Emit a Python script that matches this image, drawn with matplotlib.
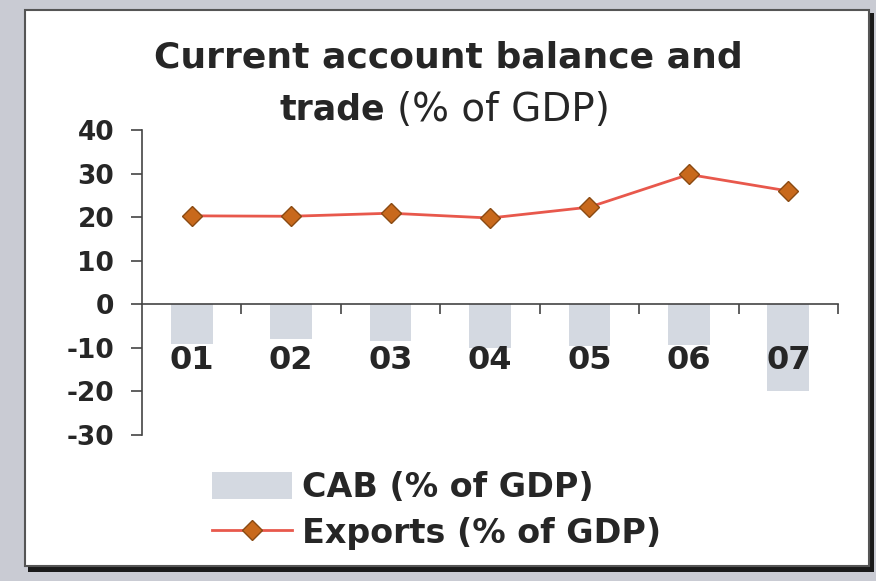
import matplotlib.pyplot as plt
from matplotlib.patches import Rectangle, Patch
from matplotlib.lines import Line2D

plt.rcParams['font.family'] = ['DejaVu Sans']

# data
years = ['01', '02', '03', '04', '05', '06', '07']
cab = [-9.0, -8.0, -8.5, -10.0, -9.5, -9.3, -19.8]
exports = [20.3, 20.2, 20.9, 19.8, 22.3, 29.8, 26.0]
yticks = [-30, -20, -10, 0, 10, 20, 30, 40]

text_col = '#262626'
bar_col = '#d4d9e1'
line_col = '#e8584c'
marker_col = '#c8691c'

W, H = 876, 581
fig = plt.figure(figsize=(W / 100, H / 100), dpi=100, facecolor='#c9cbd3')

# white card with dark shadow edge
fig.patches.append(Rectangle((28 / W, 1 - 572 / H), 846 / W, 559 / H, transform=fig.transFigure,
                             facecolor='#1a1a1a', edgecolor='none', zorder=0))
fig.patches.append(Rectangle((25 / W, 1 - 566 / H), 844 / W, 556 / H, transform=fig.transFigure,
                             facecolor='white', edgecolor='#555555', linewidth=1.5, zorder=0.5))

ax = fig.add_axes([142 / W, 1 - 435 / H, 696 / W, 305 / H])
ax.set_zorder(2)
ax.set_facecolor('none')

x = range(len(years))
ax.bar(x, cab, width=0.42, color=bar_col, zorder=1)
ax.plot(x, exports, color=line_col, linewidth=2, marker='D', markersize=10,
        markerfacecolor=marker_col, markeredgecolor='#8a4a12', markeredgewidth=1, zorder=3)

ax.set_xlim(-0.5, len(years) - 0.5)
ax.set_ylim(-30, 40)

ax.spines['top'].set_visible(False)
ax.spines['right'].set_visible(False)
ax.spines['bottom'].set_position(('data', 0))
ax.spines['left'].set_color('#444444')
ax.spines['bottom'].set_color('#444444')
ax.spines['left'].set_linewidth(1.2)
ax.spines['bottom'].set_linewidth(1.2)

ax.set_yticks(yticks)
ax.set_yticklabels([str(v) for v in yticks], fontsize=19, fontweight='bold', color=text_col)
ax.tick_params(axis='y', direction='out', length=8, width=1.2, color='#444444', pad=12)

ax.set_xticks(list(x))
ax.set_xticklabels(years, fontsize=23, fontweight='bold', color=text_col)
ax.set_xticks([i + 0.5 for i in range(len(years))], minor=True)
ax.tick_params(axis='x', which='major', length=0, pad=29)
ax.tick_params(axis='x', which='minor', direction='out', length=7, width=1.2, color='#444444')

# title: first line bold, second line mixed weight
fig.text(448 / W, 1 - 58 / H, 'Current account balance and', ha='center', va='center',
         fontsize=26, fontweight='bold', color=text_col)
fig.text(280 / W, 1 - 110 / H, 'trade', ha='left', va='center',
         fontsize=25, fontweight='bold', color=text_col)
fig.text(397 / W, 1 - 110 / H, '(% of GDP)', ha='left', va='center',
         fontsize=28, color=text_col)

handles = [Patch(facecolor=bar_col, edgecolor='none'),
           Line2D([], [], color=line_col, linewidth=2, marker='D', markersize=10,
                  markerfacecolor=marker_col, markeredgecolor='#8a4a12')]
labels = ['CAB (% of GDP)', 'Exports (% of GDP)']
leg = fig.legend(handles, labels, loc='upper left', bbox_to_anchor=(212 / W, 1 - 471 / H),
                 frameon=False, prop={'weight': 'bold', 'size': 24}, borderaxespad=0,
                 handlelength=2.4, handleheight=0.85, handletextpad=0.3, labelspacing=0.38,
                 borderpad=0)
for t in leg.get_texts():
    t.set_color(text_col)

fig.savefig('out.png', dpi=100, facecolor=fig.get_facecolor())
